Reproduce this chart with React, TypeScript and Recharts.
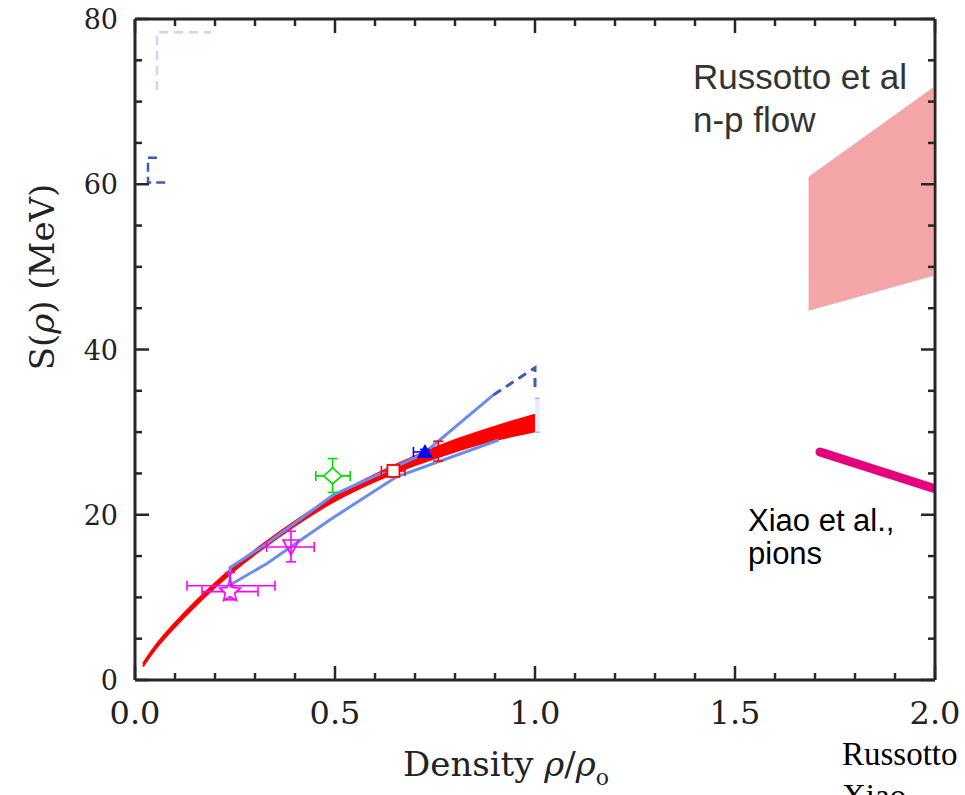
import { ComposedChart, XAxis, YAxis, Line, Area, Scatter, ErrorBar } from 'recharts';

// tick positions
const xTicks = [0, 0.1, 0.2, 0.3, 0.4, 0.5, 0.6, 0.7, 0.8, 0.9, 1.0, 1.1, 1.2, 1.3, 1.4, 1.5, 1.6, 1.7, 1.8, 1.9, 2.0];
const yTicks = [0, 5, 10, 15, 20, 25, 30, 35, 40, 45, 50, 55, 60, 65, 70, 75, 80];

// red band (S(rho) from structure)
const redX = [0.02, 0.05, 0.1, 0.15, 0.2, 0.25, 0.3, 0.4, 0.5, 0.6, 0.7, 0.8, 0.9, 1.0];
const redLow = [1.65, 3.8, 6.45, 8.95, 11.25, 13.35, 15.25, 18.75, 21.8, 24.1, 26.05, 27.7, 29.1, 30.1];
const redHigh = [1.95, 4.2, 6.95, 9.45, 11.75, 13.85, 15.75, 19.25, 22.4, 24.9, 27.15, 29.1, 30.7, 32.1];

// blue contour (solid part), drawn in path order
const blueX = [0.909, 0.654, 0.4875, 0.33, 0.2375, 0.2375, 0.329, 0.496, 0.646, 0.721, 0.896];
const blueS = [29.05, 24.6, 19.4, 14.1, 11.5, 13.6, 16.5, 22.4, 25.7, 27.4, 34.5];
// blue contour (dashed part)
const blueDashX = [0.896, 1.0, 1.0];
const blueDashS = [34.5, 37.8, 35.0];
// hatched bar at rho = rho0
const hatchX = [1.0, 1.012];
const hatchLow = [30.0, 30.0];
const hatchHigh = [34.1, 34.1];

// leftover dashed outline, upper left
const ghostX = [0.055, 0.0325, 0.0325, 0.08];
const ghostS = [63.2, 63.2, 60.2, 60.2];
const ghostTopX = [0.055, 0.055, 0.19];
const ghostTopS = [71.4, 78.4, 78.4];

// Russotto n-p flow band
const russX = [1.684, 1.995];
const russLow = [44.7, 48.9];
const russHigh = [60.9, 71.7];

// Xiao pions
const xiaoX = [1.7125, 1.996];
const xiaoS = [27.6, 23.2];

// data points with error bars
const ptName = ['star', 'bar', 'vtri', 'diamond', 'square', 'tri', 'dot'];
const ptX = [0.2375, 0.24, 0.39, 0.494, 0.646, 0.725, 0.758];
const ptS = [10.7, 11.4, 16.1, 24.7, 25.3, 27.6, 27.6];
const ptXLo = [0.07, 0.11, 0.061, 0.042, 0.03, 0.029, 0];
const ptXHi = [0.07, 0.11, 0.058, 0.044, 0.029, 0.0, 0];
const ptSLo = [1.0, 0, 1.8, 2.0, 0.4, 0.3, 1.1];
const ptSHi = [2.3, 0, 1.9, 2.1, 0.4, 0.3, 1.3];
const ptColor = ['#ff00ff', '#ff00ff', '#ff00ff', '#00dd00', '#ff0000', '#0000ff', '#ff0000'];

const redData = redX.map((x, i) => ({ x, band: [redLow[i], redHigh[i]] }));
const blueData = blueX.map((x, i) => ({ x, s: blueS[i] }));
const blueDashData = blueDashX.map((x, i) => ({ x, s: blueDashS[i] }));
const hatchData = hatchX.map((x, i) => ({ x, band: [hatchLow[i], hatchHigh[i]] }));
const ghostData = ghostX.map((x, i) => ({ x, s: ghostS[i] }));
const ghostTopData = ghostTopX.map((x, i) => ({ x, s: ghostTopS[i] }));
const russData = russX.map((x, i) => ({ x, band: [russLow[i], russHigh[i]] }));
const xiaoData = xiaoX.map((x, i) => ({ x, s: xiaoS[i] }));

const AXIS = '#262626';
const SERIF = "'DejaVu Serif', serif";

const isMajor = (v: number, step: number) => Math.abs(v / step - Math.round(v / step)) < 1e-6;

function BottomTick(props: any) {
  const { x, y, payload } = props;
  const v = payload.value;
  const major = isMajor(v, 0.5);
  return (
    <g>
      <line x1={x} x2={x} y1={y} y2={y - (major ? 14 : 7)} stroke={AXIS} strokeWidth={2.5} />
      {major && (
        <text x={x} y={y + 44} textAnchor="middle" fontFamily={SERIF} fontSize={32} fill="#222">
          {v.toFixed(1)}
        </text>
      )}
    </g>
  );
}

function TopTick(props: any) {
  const { x, y, payload } = props;
  const major = isMajor(payload.value, 0.5);
  return <line x1={x} x2={x} y1={y} y2={y + (major ? 14 : 7)} stroke={AXIS} strokeWidth={2.5} />;
}

function LeftTick(props: any) {
  const { x, y, payload } = props;
  const v = payload.value;
  const major = isMajor(v, 20);
  return (
    <g>
      <line x1={x} x2={x + (major ? 14 : 7)} y1={y} y2={y} stroke={AXIS} strokeWidth={2.5} />
      {major && (
        <text x={x - 17} y={y + 10} textAnchor="end" fontFamily={SERIF} fontSize={27} fill="#222">
          {v}
        </text>
      )}
    </g>
  );
}

function RightTick(props: any) {
  const { x, y, payload } = props;
  const major = isMajor(payload.value, 20);
  return <line x1={x} x2={x - (major ? 14 : 7)} y1={y} y2={y} stroke={AXIS} strokeWidth={2.5} />;
}

function starPoints(cx: number, cy: number, ro: number, ri: number) {
  const pts: string[] = [];
  for (let k = 0; k < 10; k++) {
    const r = k % 2 === 0 ? ro : ri;
    const a = -Math.PI / 2 + (k * Math.PI) / 5;
    pts.push(`${cx + r * Math.cos(a)},${cy + r * Math.sin(a)}`);
  }
  return pts.join(' ');
}

function makeShape(kind: string, color: string) {
  return (p: any) => {
    const { cx, cy } = p;
    if (cx == null || cy == null) return <g />;
    switch (kind) {
      case 'star':
        return <polygon points={starPoints(cx, cy, 11, 5)} fill="#fff" stroke={color} strokeWidth={1.6} />;
      case 'vtri':
        return <polygon points={`${cx - 8},${cy - 7} ${cx + 8},${cy - 7} ${cx},${cy + 8}`} fill="none" stroke={color} strokeWidth={1.6} />;
      case 'diamond':
        return <polygon points={`${cx},${cy - 8} ${cx + 9},${cy} ${cx},${cy + 8} ${cx - 9},${cy}`} fill="#fff" stroke={color} strokeWidth={1.6} />;
      case 'square':
        return <rect x={cx - 6} y={cy - 6} width={12} height={12} fill="#fff" stroke={color} strokeWidth={1.8} />;
      case 'tri':
        return <polygon points={`${cx - 8},${cy + 6} ${cx + 8},${cy + 6} ${cx},${cy - 8}`} fill={color} />;
      case 'dot':
        return <circle cx={cx} cy={cy} r={5} fill={color} />;
      default:
        return <circle cx={cx} cy={cy} r={2} fill={color} />;
    }
  };
}

export default function App() {
  return (
    <div style={{ position: 'absolute', left: 0, top: 0, width: 965, height: 795, background: '#fff' }}>
      <ComposedChart width={965} height={795} margin={{ top: 18, right: 29, bottom: 0, left: 0 }}>
        <XAxis
          dataKey="x"
          type="number"
          domain={[0, 2]}
          ticks={xTicks}
          interval={0}
          allowDataOverflow
          height={115}
          tickSize={0}
          tickMargin={0}
          tickLine={false}
          axisLine={{ stroke: AXIS, strokeWidth: 3 }}
          tick={<BottomTick />}
        />
        <XAxis
          xAxisId="top"
          dataKey="x"
          type="number"
          orientation="top"
          domain={[0, 2]}
          ticks={xTicks}
          interval={0}
          allowDataOverflow
          height={1}
          tickSize={0}
          tickMargin={0}
          tickLine={false}
          axisLine={{ stroke: AXIS, strokeWidth: 3 }}
          tick={<TopTick />}
        />
        <YAxis
          type="number"
          domain={[0, 80]}
          ticks={yTicks}
          interval={0}
          allowDataOverflow
          width={135}
          tickSize={0}
          tickMargin={0}
          tickLine={false}
          axisLine={{ stroke: AXIS, strokeWidth: 3 }}
          tick={<LeftTick />}
        />
        <YAxis
          yAxisId="right"
          orientation="right"
          type="number"
          domain={[0, 80]}
          ticks={yTicks}
          interval={0}
          allowDataOverflow
          width={1}
          tickSize={0}
          tickMargin={0}
          tickLine={false}
          axisLine={{ stroke: AXIS, strokeWidth: 3 }}
          tick={<RightTick />}
        />

        <Area data={russData} dataKey="band" type="linear" fill="#f4a5a8" fillOpacity={1} stroke="none" isAnimationActive={false} />
        <Line data={ghostTopData} dataKey="s" type="linear" stroke="#3b5cb8" strokeOpacity={0.25} strokeWidth={2.5} strokeDasharray="9 6" dot={false} isAnimationActive={false} />
        <Line data={ghostData} dataKey="s" type="linear" stroke="#3b5cb8" strokeWidth={2.5} strokeDasharray="9 5" dot={false} isAnimationActive={false} />

        <Area data={redData} dataKey="band" type="basis" fill="#ff0000" fillOpacity={1} stroke="#ff0000" strokeWidth={2} isAnimationActive={false} />
        <Area data={hatchData} dataKey="band" type="linear" fill="#e6edfc" fillOpacity={1} stroke="#7f9de8" strokeWidth={1} isAnimationActive={false} />
        <Line data={blueData} dataKey="s" type="linear" stroke="#6a8cf0" strokeWidth={3} dot={false} isAnimationActive={false} />
        <Line data={blueDashData} dataKey="s" type="linear" stroke="#3b5cb8" strokeWidth={3} strokeDasharray="9 6" dot={false} isAnimationActive={false} />

        {ptName.map((name, i) => (
          <Scatter
            key={name}
            data={[{ x: ptX[i], y: ptS[i], ex: [ptXLo[i], ptXHi[i]], ey: [ptSLo[i], ptSHi[i]] }]}
            dataKey="y"
            shape={makeShape(name, ptColor[i])}
            isAnimationActive={false}
          >
            {(ptXLo[i] > 0 || ptXHi[i] > 0) && (
              <ErrorBar dataKey="ex" direction="x" width={5} stroke={ptColor[i]} strokeWidth={1.6} />
            )}
            {(ptSLo[i] > 0 || ptSHi[i] > 0) && (
              <ErrorBar dataKey="ey" direction="y" width={5} stroke={ptColor[i]} strokeWidth={1.6} />
            )}
          </Scatter>
        ))}

        <Line data={xiaoData} dataKey="s" type="linear" stroke="#e5007d" strokeWidth={9} strokeLinecap="round" dot={false} isAnimationActive={false} />
      </ComposedChart>

      <svg width={965} height={795} style={{ position: 'absolute', left: 0, top: 0, pointerEvents: 'none' }}>
        <text x={693} y={89} fontFamily="'Liberation Sans', Arial, sans-serif" fontSize={35} fill="#333">Russotto et al</text>
        <text x={693} y={132} fontFamily="'Liberation Sans', Arial, sans-serif" fontSize={35} fill="#333">n-p flow</text>
        <text x={748} y={531} fontFamily="'Liberation Sans', Arial, sans-serif" fontSize={31} fill="#000">Xiao et al.,</text>
        <text x={748} y={564} fontFamily="'Liberation Sans', Arial, sans-serif" fontSize={31} fill="#000">pions</text>
        <text x={842} y={765} fontFamily="'Liberation Serif', 'Times New Roman', serif" fontSize={33} fill="#000">Russotto</text>
        <text x={842} y={807} fontFamily="'Liberation Serif', 'Times New Roman', serif" fontSize={33} fill="#000">Xiao</text>
        <text x={506} y={776} textAnchor="middle" fontFamily={SERIF} fontSize={34} fill="#222">
          Density <tspan fontStyle="italic">ρ</tspan>/<tspan fontStyle="italic">ρ</tspan>
          <tspan fontSize={22} dy={9}>o</tspan>
        </text>
        <text x={0} y={0} transform="translate(54 277) rotate(-90)" textAnchor="middle" fontFamily={SERIF} fontSize={34} fill="#222">
          S(<tspan fontStyle="italic">ρ</tspan>)  (MeV)
        </text>
      </svg>
    </div>
  );
}
